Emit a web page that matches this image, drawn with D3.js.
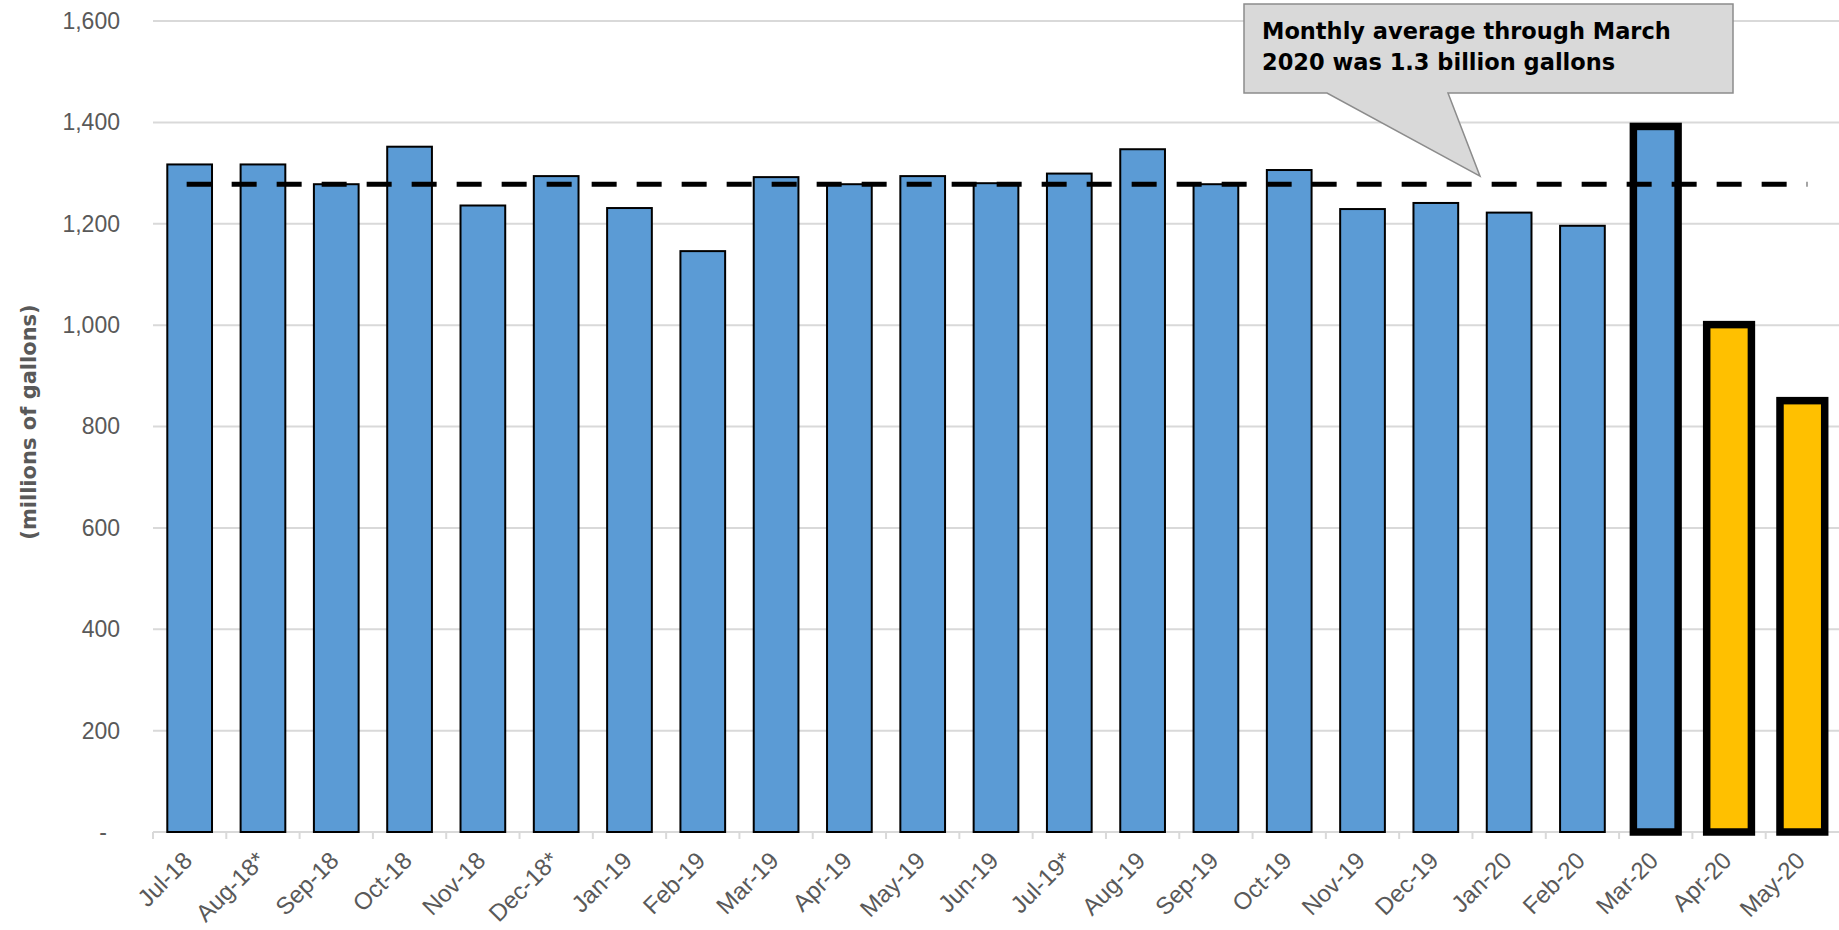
<!DOCTYPE html>
<html lang="en">
<head>
  <meta charset="UTF-8">
  <title>Monthly gallons</title>
  <script src="https://d3js.org/d3.v7.min.js"></script>
  <style>
    body { margin: 0; background: #fff; font-family: "DejaVu Sans", sans-serif; }
    .tick text { fill: #595959; }
  </style>
</head>
<body>
  <div id="chart"></div>
  <script>
    const months = ["Jul-18","Aug-18*","Sep-18","Oct-18","Nov-18","Dec-18*","Jan-19","Feb-19","Mar-19","Apr-19","May-19","Jun-19",
                    "Jul-19*","Aug-19","Sep-19","Oct-19","Nov-19","Dec-19","Jan-20","Feb-20","Mar-20","Apr-20","May-20"];
    const gallons = [1317,1317,1278,1352,1236,1294,1231,1146,1292,1278,1294,1280,
                     1299,1347,1278,1306,1229,1241,1222,1196,1392,1001,851];
    // months drawn with a heavy outline, and which of them are yellow
    const highlighted = ["Mar-20","Apr-20","May-20"];
    const yellow = ["Apr-20","May-20"];
    const average = 1278;
    const yTicks = [0,200,400,600,800,1000,1200,1400,1600];
    const calloutLines = ["Monthly average through March", "2020 was 1.3 billion gallons"];

    const W = 1839, H = 930;
    const margin = {top: 21, right: 0, bottom: 98, left: 153};

    const svg = d3.select("#chart").append("svg")
      .attr("width", W).attr("height", H);

    const x = d3.scaleBand()
      .domain(months)
      .range([margin.left, W - margin.right])
      .paddingInner(0.39)
      .paddingOuter(0.195);

    const y = d3.scaleLinear()
      .domain([0, 1600])
      .range([H - margin.bottom, margin.top]);

    // grid lines
    svg.append("g")
      .selectAll("line")
      .data(yTicks.filter(d => d > 0))
      .join("line")
      .attr("x1", margin.left).attr("x2", W - margin.right)
      .attr("y1", d => y(d)).attr("y2", d => y(d))
      .attr("stroke", "#d9d9d9").attr("stroke-width", 2);

    // y axis
    const fmt = d3.format(",");
    const yAxis = svg.append("g")
      .attr("transform", `translate(${margin.left},0)`)
      .call(d3.axisLeft(y).tickValues(yTicks).tickSize(0).tickPadding(33)
        .tickFormat(d => d === 0 ? "-" : fmt(d)));
    yAxis.select(".domain").remove();
    yAxis.selectAll("text")
      .style("font-size", "23px")
      .attr("dx", d => d === 0 ? -13 : 0);

    // y axis title
    svg.append("text")
      .attr("transform", `translate(36,422) rotate(-90)`)
      .attr("text-anchor", "middle")
      .attr("fill", "#595959")
      .style("font-size", "21px")
      .style("font-weight", "bold")
      .text("(millions of gallons)");

    // x axis line + ticks at category boundaries
    const step = x.step();
    const bounds = d3.range(months.length).map(i => x.range()[0] + i * step);
    const xg = svg.append("g");
    xg.append("line")
      .attr("x1", margin.left).attr("x2", W - margin.right)
      .attr("y1", y(0)).attr("y2", y(0))
      .attr("stroke", "#d9d9d9").attr("stroke-width", 2);
    xg.selectAll(".bt")
      .data(bounds)
      .join("line")
      .attr("class", "bt")
      .attr("x1", d => d).attr("x2", d => d)
      .attr("y1", y(0)).attr("y2", y(0) + 7)
      .attr("stroke", "#d9d9d9").attr("stroke-width", 2);

    const xAxis = svg.append("g")
      .attr("transform", `translate(0,${y(0)})`)
      .call(d3.axisBottom(x).tickSize(0).tickPadding(0));
    xAxis.select(".domain").remove();
    xAxis.selectAll("text")
      .attr("text-anchor", "end")
      .attr("dy", 0)
      .attr("transform", "translate(4,30) rotate(-45)")
      .style("font-size", "24px");

    // bars
    const data = months.map((m, i) => ({month: m, value: gallons[i]}));
    svg.append("g")
      .selectAll("rect")
      .data(data)
      .join("rect")
      .attr("x", d => x(d.month))
      .attr("width", x.bandwidth())
      .attr("y", d => y(d.value))
      .attr("height", d => y(0) - y(d.value))
      .attr("fill", d => yellow.includes(d.month) ? "#ffc000" : "#5b9bd5")
      .attr("stroke", "#000")
      .attr("stroke-width", d => highlighted.includes(d.month) ? 7.5 : 2);

    // average dashed line
    svg.append("line")
      .attr("x1", x(months[0]) + x.bandwidth() / 2 - 3)
      .attr("x2", x(months[months.length - 1]) + x.bandwidth() / 2 + 5)
      .attr("y1", y(average)).attr("y2", y(average))
      .attr("stroke", "#000")
      .attr("stroke-width", 5)
      .attr("stroke-dasharray", "25,20");

    // callout
    const bx0 = 1244, bx1 = 1733, by0 = 4, by1 = 93;
    const tipX = 1480, tipY = y(average) - 8;
    const callout = svg.append("g");
    callout.append("path")
      .attr("d", `M${bx0},${by0}H${bx1}V${by1}H1448L${tipX},${tipY}L1327,${by1}H${bx0}Z`)
      .attr("fill", "#d9d9d9")
      .attr("stroke", "#8c8c8c")
      .attr("stroke-width", 1.5);
    callout.selectAll("text")
      .data(calloutLines)
      .join("text")
      .attr("x", 1262)
      .attr("y", (d, i) => 39 + i * 31)
      .attr("fill", "#000")
      .style("font-size", "22.5px")
      .style("font-weight", "bold")
      .text(d => d);
  </script>
</body>
</html>
